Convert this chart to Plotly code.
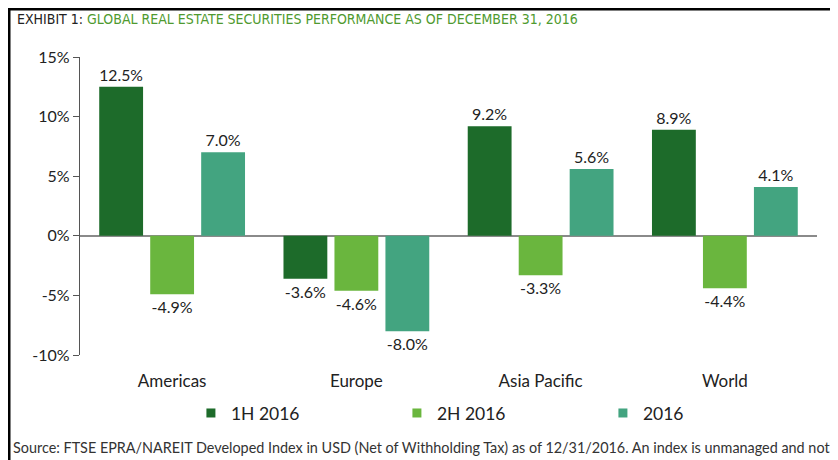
import plotly.graph_objects as go

categories = ["Americas", "Europe", "Asia Pacific", "World"]
series_names = ["1H 2016", "2H 2016", "2016"]
h1_2016 = [12.5, -3.6, 9.2, 8.9]
h2_2016 = [-4.9, -4.6, -3.3, -4.4]
fy_2016 = [7.0, -8.0, 5.6, 4.1]
tick_vals = [-10, -5, 0, 5, 10, 15]
tick_text = ["-10%", "-5%", "0%", "5%", "10%", "15%"]

colors = ["#1d6b2a", "#6ab63e", "#43a480"]
values = [h1_2016, h2_2016, fy_2016]

FONT = "Lato"
fig = go.Figure()
for name, vals, col in zip(series_names, values, colors):
    fig.add_trace(go.Bar(
        x=categories, y=vals, name=name, showlegend=False, legendgroup=name,
        marker=dict(color=col, line=dict(width=0)),
        text=[f"{v:.1f}%" for v in vals],
        textposition="outside",
        textfont=dict(family=FONT, size=16, color="#222222"),
        cliponaxis=False,
    ))
# small square legend keys, as in the reference
for name, col in zip(series_names, colors):
    fig.add_trace(go.Scatter(
        x=[None], y=[None], mode="markers", name=name, legendgroup=name,
        marker=dict(symbol="square", size=9, color=col),
    ))

# the page body has an 8px margin, so the figure is sized/offset to fill the 838x460 window
fig.update_layout(
    width=830, height=452,
    margin=dict(l=72, r=21, t=49, b=105),
    paper_bgcolor="white", plot_bgcolor="white",
    barmode="group", bargap=0.17, bargroupgap=0.14,
    font=dict(family=FONT, color="#222222"),
    showlegend=True,
    legend=dict(orientation="h", x=0.1505, xanchor="left", y=-0.195, yanchor="middle",
                font=dict(family=FONT, size=17.5, color="#222222"),
                entrywidth=161, entrywidthmode="pixels", itemwidth=30,
                traceorder="normal"),
    xaxis=dict(showline=False, ticks="", showgrid=False,
               tickfont=dict(family=FONT, size=17, color="#222222"), ticklabelstandoff=14),
    yaxis=dict(range=[-10, 15], tickvals=tick_vals, ticktext=tick_text,
               showgrid=False, zeroline=True, zerolinecolor="#8a8a8a", zerolinewidth=1.5,
               showline=True, linecolor="#555555", linewidth=1.2,
               ticks="outside", ticklen=6, tickcolor="#555555",
               tickfont=dict(family=FONT, size=16, color="#222222")),
    annotations=[
        dict(xref="paper", yref="paper", x=-0.088, y=1.128, xanchor="left", yanchor="middle",
             showarrow=False,
             text="<span style='color:#222222'>EXHIBIT 1: </span><span style='color:#4f9a2f'>GLOBAL REAL ESTATE SECURITIES PERFORMANCE AS OF DECEMBER 31, 2016</span>",
             font=dict(family="DejaVu Sans Condensed", size=14)),
        dict(xref="paper", yref="paper", x=-0.093, y=-0.31, xanchor="left", yanchor="middle",
             showarrow=False,
             text="Source: FTSE EPRA/NAREIT Developed Index in USD (Net of Withholding Tax) as of 12/31/2016. An index is unmanaged and not",
             font=dict(family=FONT, size=14.4, color="#333333")),
    ],
    shapes=[
        dict(type="rect", xref="paper", yref="paper", x0=-0.096, x1=1.0205, y0=-0.4, y1=1.16,
             line=dict(color="black", width=2.5), fillcolor="rgba(0,0,0,0)", layer="above"),
    ],
)

fig.write_html("out.html", config={"displayModeBar": False})
